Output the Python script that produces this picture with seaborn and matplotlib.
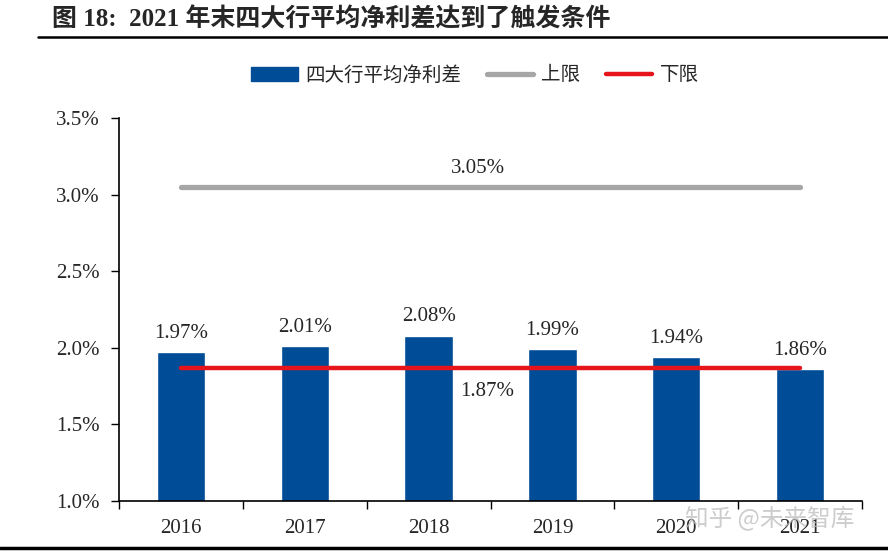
import matplotlib
matplotlib.use("Agg")
import matplotlib.pyplot as plt
import seaborn as sns
import pandas as pd
from matplotlib.lines import Line2D
from matplotlib.patches import Patch

years = ["2016", "2017", "2018", "2019", "2020", "2021"]
nim = [1.97, 2.01, 2.08, 1.99, 1.94, 1.86]
upper = [3.05] * 6
lower = [1.87] * 6
yticks = [1.0, 1.5, 2.0, 2.5, 3.0, 3.5]

sns.set_theme(style="white")
plt.rcParams['font.family'] = ['Liberation Serif', 'Noto Sans CJK SC']

BLUE = "#004C97"
GREY = "#A6A6A6"
RED = "#E8141B"
FS = 15

fig = plt.figure(figsize=(8.88, 5.55), dpi=100)
ax = fig.add_axes([119/888, 1-501/555, (862-119)/888, (501-118)/555])

df = pd.DataFrame({"year": years, "nim": nim, "upper": upper, "lower": lower})
sns.barplot(data=df, x="year", y="nim", color=BLUE, width=0.39, ax=ax, saturation=1)
sns.lineplot(data=df, x="year", y="upper", color=GREY, linewidth=3.8, ax=ax)
sns.lineplot(data=df, x="year", y="lower", color=RED, linewidth=3.2, ax=ax)

ax.set_ylim(1.0, 3.5)
ax.set_xlim(-0.5, 5.5)
ax.set_yticks(yticks)
ax.set_yticklabels([f"{v:.1f}%" for v in yticks], fontsize=FS)
ax.set_xticks([i - 0.5 for i in range(len(years) + 1)])
ax.set_xticklabels([])
ax.set_xticks(range(len(years)), minor=True)
ax.set_xticklabels(years, minor=True, fontsize=FS)
ax.tick_params(axis="x", which="major", direction="out", length=6, width=1, color="black", bottom=True)
ax.tick_params(axis="x", which="minor", length=0, pad=13)
ax.tick_params(axis="y", direction="out", length=6, width=1, color="black", left=True, pad=8)
ax.set_xlabel("")
ax.set_ylabel("")
for s in ["top", "right"]:
    ax.spines[s].set_visible(False)
for s in ["left", "bottom"]:
    ax.spines[s].set_color("black")
    ax.spines[s].set_linewidth(1.2)
ax.grid(False)

for i, v in enumerate(nim):
    ax.text(i, v + 0.06, f"{v:.2f}%", ha="center", va="bottom", fontsize=FS)
ax.text(2.4, upper[0] + 0.06, f"{upper[0]:.2f}%", ha="center", va="bottom", fontsize=FS)
ax.text(2.47, lower[0] - 0.09, f"{lower[0]:.2f}%", ha="center", va="top", fontsize=FS)

handles = [Patch(facecolor=BLUE, edgecolor=BLUE),
           Line2D([0], [0], color=GREY, linewidth=3.8),
           Line2D([0], [0], color=RED, linewidth=3.2)]
fig.legend(handles, ["四大行平均净利差", "上限", "下限"], loc="center",
           bbox_to_anchor=(475/888, 1-75/555), ncol=3, frameon=False,
           prop={"family": ["Noto Sans CJK SC"], "size": 14},
           handlelength=2.4, handleheight=0.75, columnspacing=1.3, handletextpad=0.4)

fig.text(52/888, 1-19/555, "图 18:  2021 年末四大行平均净利差达到了触发条件",
         ha="left", va="center", fontsize=18, fontweight="bold",
         family=["Liberation Serif", "Noto Sans CJK SC"])
fig.add_artist(Line2D([38/888, 1.0], [1-37/555, 1-37/555], color="black", linewidth=1.8))
fig.add_artist(Line2D([0.0, 1.0], [1-548/555, 1-548/555], color="black", linewidth=2.5))

fig.text(770/888, 1-518/555, "知乎 @未来智库", ha="center", va="center", fontsize=17,
         color="#BBBBBB", alpha=0.75, family=["Noto Sans CJK SC"])

fig.savefig("out.png", dpi=100)
